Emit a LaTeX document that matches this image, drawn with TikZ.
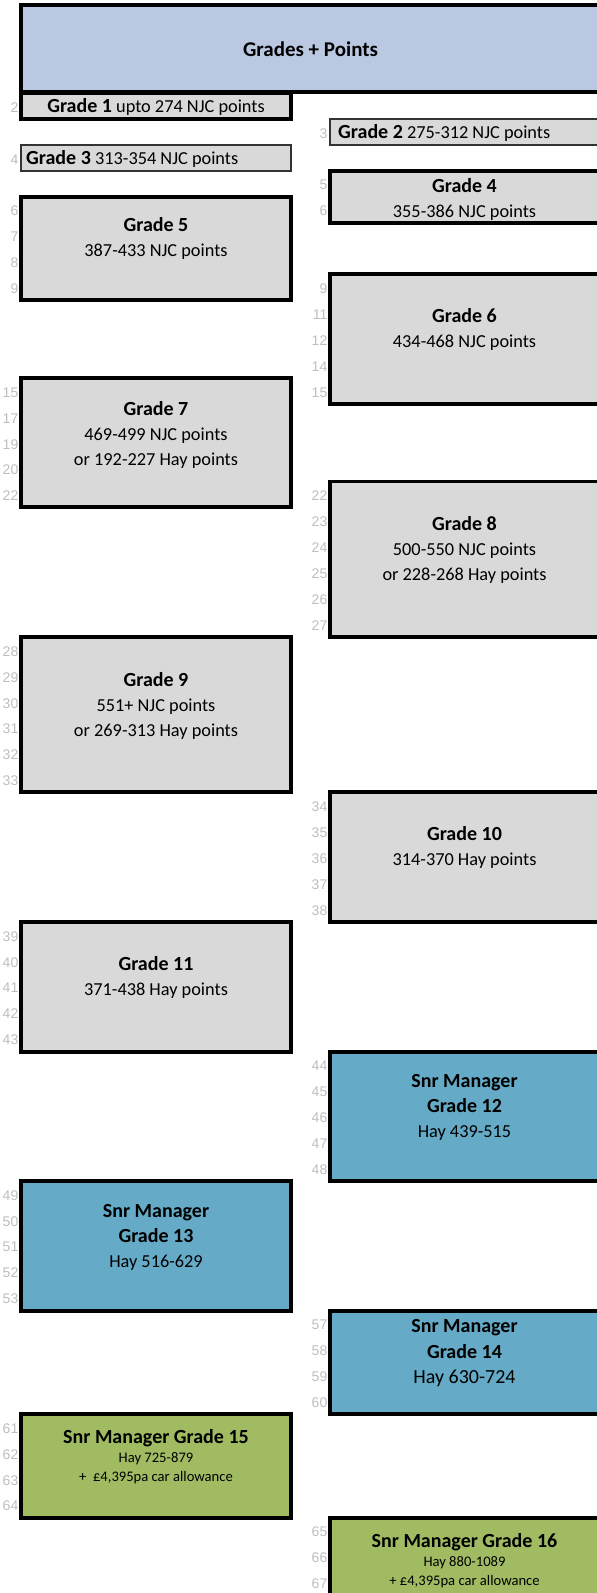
\documentclass[tikz,border=0pt]{standalone}
\usepackage{fontspec}
\setmainfont{Carlito}
\newfontfamily\rowfont{Liberation Sans}
\usetikzlibrary{positioning}
\definecolor{headerblue}{RGB}{186,201,225}
\definecolor{gradegrey}{RGB}{217,217,217}
\definecolor{snrblue}{RGB}{101,170,198}
\definecolor{snrgreen}{RGB}{161,187,99}
\definecolor{rowgrey}{RGB}{190,190,190}

\begin{document}
\begin{tikzpicture}[x=1pt, y=-1pt,
    gradebox/.style={draw=black, line width=3.2pt, fill=gradegrey},
    thinbox/.style={draw=black!80, line width=1.4pt, fill=gradegrey},
    gradetext/.style={align=center, inner sep=0pt, font=\fontsize{18.3}{25}\selectfont},
    rownum/.style={anchor=east, inner sep=0pt, text=rowgrey, font=\rowfont\fontsize{14}{14}\selectfont}]

    \useasboundingbox (0,0) rectangle (597,1593);
    \clip (0,0) rectangle (597,1593);

    % Spreadsheet row numbers (left and right column)
    \foreach \k/\n in {0/2, 2/4, 4/6, 5/7, 6/8, 7/9, 11/15, 12/17, 13/19, 14/20, 15/22,
            21/28, 22/29, 23/30, 24/31, 25/32, 26/33, 32/39, 33/40, 34/41, 35/42, 36/43,
            42/49, 43/50, 44/51, 45/52, 46/53, 51/61, 52/62, 53/63, 54/64}
        \node[rownum] (left\n) at (18.5,{107.5+25.9*\k}) {\n};
    \foreach \k/\n in {1/3, 3/5, 4/6, 7/9, 8/11, 9/12, 10/14, 11/15, 15/22, 16/23, 17/24,
            18/25, 19/26, 20/27, 27/34, 28/35, 29/36, 30/37, 31/38, 37/44, 38/45, 39/46,
            40/47, 41/48, 47/57, 48/58, 49/59, 50/60, 55/65, 56/66, 57/67}
        \node[rownum] (right\n) at (327.5,{107.5+25.9*\k}) {\n};

    % Header
    \draw[gradebox, fill=headerblue] (21,5) rectangle (601,92);
    \node[gradetext, font=\bfseries\fontsize{21}{25}\selectfont] (header) at (310.5,49) {Grades + Points};

    % Single row grades
    \draw[gradebox] (21,93) rectangle (291,119);
    \node[gradetext] (grade1) at (156,107) {\textbf{\fontsize{20}{25}\selectfont Grade 1} upto 274 NJC points};
    \draw[thinbox] (330,119) rectangle (601,145);
    \node[gradetext, anchor=west] (grade2) at (338,133) {\textbf{\fontsize{20}{25}\selectfont Grade 2} 275-312 NJC points};
    \draw[thinbox] (21,145) rectangle (291,171);
    \node[gradetext, anchor=west] (grade3) at (26,159) {\textbf{\fontsize{20}{25}\selectfont Grade 3} 313-354 NJC points};

    % NJC grades
    \draw[gradebox] (330,171) rectangle (601,223);
    \node[gradetext] (grade4) at (464.5,199) {\textbf{\fontsize{20}{25}\selectfont Grade 4}\\355-386 NJC points};
    \draw[gradebox] (21,197) rectangle (291,300);
    \node[gradetext] (grade5) at (156,238.5) {\textbf{\fontsize{20}{25}\selectfont Grade 5}\\387-433 NJC points};
    \draw[gradebox] (330,274) rectangle (601,404);
    \node[gradetext] (grade6) at (464.5,329.5) {\textbf{\fontsize{20}{25}\selectfont Grade 6}\\434-468 NJC points};
    \draw[gradebox] (21,378) rectangle (291,507);
    \node[gradetext] (grade7) at (156,434.5) {\textbf{\fontsize{20}{25}\selectfont Grade 7}\\469-499 NJC points\\or 192-227 Hay points};
    \draw[gradebox] (330,481.5) rectangle (601,637);
    \node[gradetext] (grade8) at (464.5,550) {\textbf{\fontsize{20}{25}\selectfont Grade 8}\\500-550 NJC points\\or 228-268 Hay points};
    \draw[gradebox] (21,637) rectangle (291,792);
    \node[gradetext] (grade9) at (156,705.5) {\textbf{\fontsize{20}{25}\selectfont Grade 9}\\551+ NJC points\\or 269-313 Hay points};

    % Hay grades
    \draw[gradebox] (330,792) rectangle (601,922);
    \node[gradetext] (grade10) at (464.5,847.5) {\textbf{\fontsize{20}{25}\selectfont Grade 10}\\314-370 Hay points};
    \draw[gradebox] (21,922) rectangle (291,1052);
    \node[gradetext] (grade11) at (156,977.5) {\textbf{\fontsize{20}{25}\selectfont Grade 11}\\371-438 Hay points};

    % Senior managers
    \draw[gradebox, fill=snrblue] (330,1052) rectangle (601,1181);
    \node[gradetext] (grade12) at (464.5,1107) {\textbf{\fontsize{20}{25}\selectfont Snr Manager}\\\textbf{\fontsize{20}{25}\selectfont Grade 12}\\Hay 439-515};
    \draw[gradebox, fill=snrblue] (21,1181) rectangle (291,1311);
    \node[gradetext] (grade13) at (156,1237) {\textbf{\fontsize{20}{25}\selectfont Snr Manager}\\\textbf{\fontsize{20}{25}\selectfont Grade 13}\\Hay 516-629};
    \draw[gradebox, fill=snrblue] (330,1311) rectangle (601,1414);
    \node[gradetext, font=\fontsize{20}{25.5}\selectfont] (grade14) at (464.5,1353.5) {\textbf{Snr Manager}\\\textbf{Grade 14}\\Hay 630-724};

    % Car allowance grades
    \draw[gradebox, fill=snrgreen] (21,1414) rectangle (291,1518);
    \node[gradetext, font=\fontsize{14.6}{19}\selectfont] (grade15) at (156,1457) {\textbf{\fontsize{20}{22}\selectfont Snr Manager Grade 15}\\Hay 725-879\\+\ \ £4,395pa car allowance};
    \draw[gradebox, fill=snrgreen] (330,1518) rectangle (601,1620);
    \node[gradetext, font=\fontsize{14.6}{19}\selectfont] (grade16) at (464.5,1560.5) {\textbf{\fontsize{20}{22}\selectfont Snr Manager Grade 16}\\Hay 880-1089\\+ £4,395pa car allowance};
\end{tikzpicture}
\end{document}
